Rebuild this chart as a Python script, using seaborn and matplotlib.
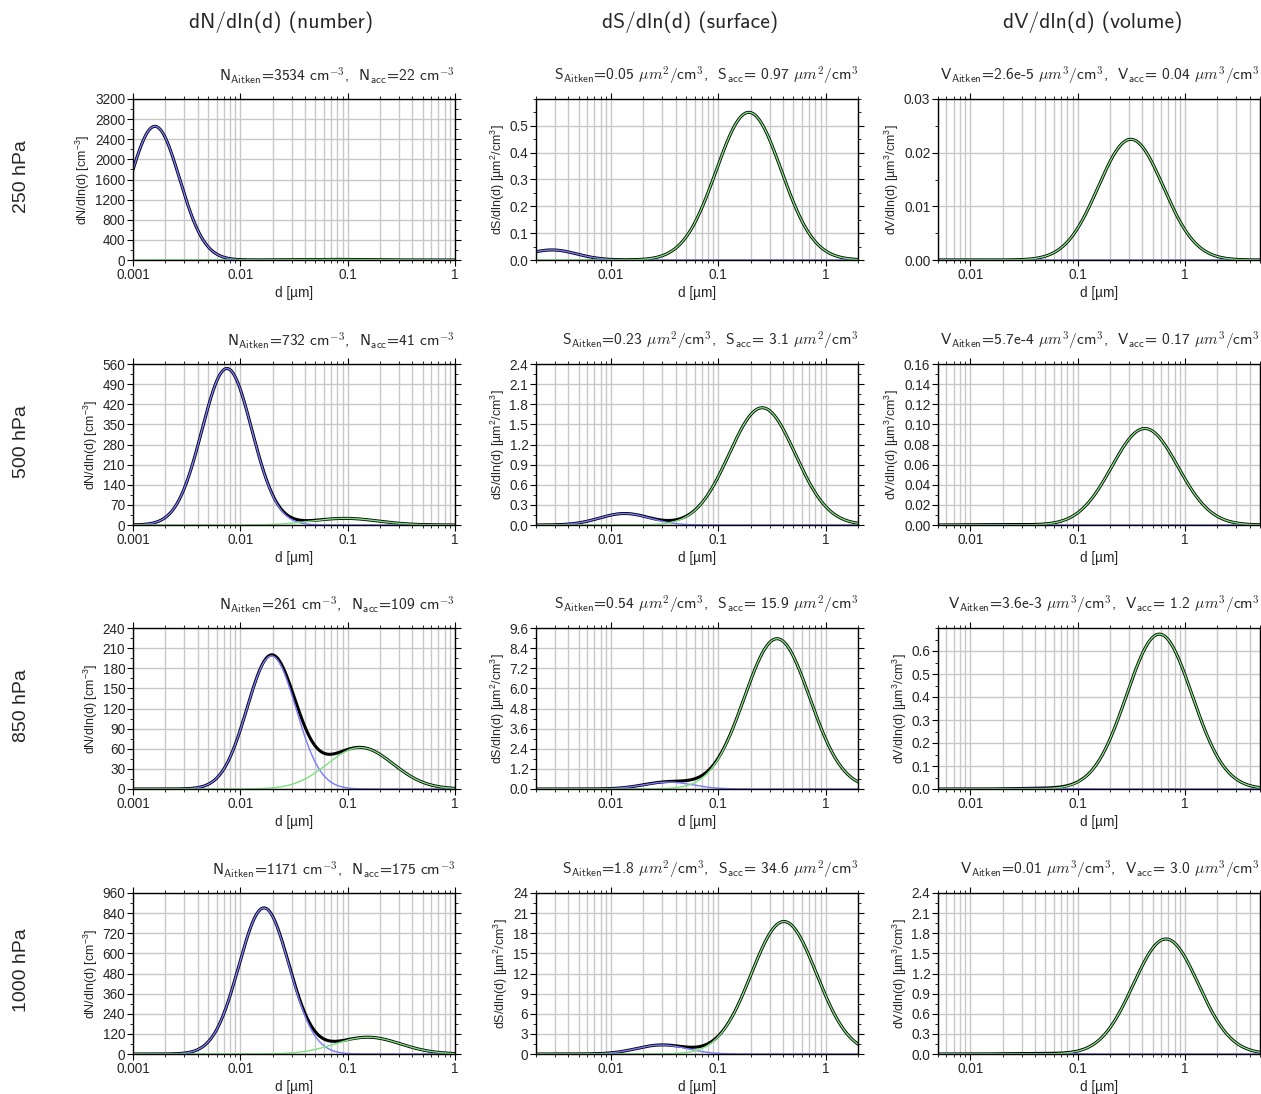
import numpy as np
import pandas as pd
import seaborn as sns
import matplotlib.pyplot as plt
from matplotlib.ticker import FixedLocator, LogLocator, NullFormatter, FuncFormatter, FormatStrFormatter, AutoMinorLocator

# pressure levels (rows)
levels = ["250 hPa", "500 hPa", "850 hPa", "1000 hPa"]

# lognormal mode parameters (N [cm-3], median d [um], geometric std)
n_aitken = [3534, 732, 261, 1171]
dg_aitken = [0.0016, 0.0075, 0.0195, 0.0166]
sig_aitken = [1.70, 1.71, 1.69, 1.71]
n_acc = [22, 41, 109, 175]
dg_acc = [0.0725, 0.094, 0.131, 0.154]
sig_acc = [2.01, 2.03, 2.02, 2.01]

# numbers printed in the panel titles
txt_n = [("3534", "22"), ("732", "41"), ("261", "109"), ("1171", "175")]
txt_s = [("0.05", "0.97"), ("0.23", "3.1"), ("0.54", "15.9"), ("1.8", "34.6")]
txt_v = [("2.6e-5", "0.04"), ("5.7e-4", "0.17"), ("3.6e-3", "1.2"), ("0.01", "3.0")]

col_titles = ["dN/dln(d) (number)", "dS/dln(d) (surface)", "dV/dln(d) (volume)"]
ylabels = ["dN/dln(d) [cm$\\mathregular{^{-3}}$]",
           "dS/dln(d) [\u00b5m$\\mathregular{^{2}}$/cm$\\mathregular{^{3}}$]",
           "dV/dln(d) [\u00b5m$\\mathregular{^{3}}$/cm$\\mathregular{^{3}}$]"]

# axis ranges
xlims = [(0.001, 1), (0.002, 2), (0.005, 5)]
ylims = [[3200, 0.6, 0.03], [560, 2.4, 0.16], [240, 9.6, 0.70], [960, 24, 2.4]]
ystep = [[400, 0.1, 0.01], [70, 0.3, 0.02], [30, 1.2, 0.1], [120, 3, 0.3]]
ytop = [[3200, 0.5, 0.03], [560, 2.4, 0.16], [240, 9.6, 0.6], [960, 24, 2.4]]
ydec = [[0, 1, 2], [0, 1, 2], [0, 1, 1], [0, 0, 1]]


def lognormal(d, n, dg, sg):
    ls = np.log(sg)
    return n / (np.sqrt(2 * np.pi) * ls) * np.exp(-(np.log(d) - np.log(dg)) ** 2 / (2 * ls ** 2))


sns.set_style("ticks")
plt.rcParams["font.family"] = ["Liberation Sans", "DejaVu Sans"]
plt.rcParams["mathtext.fontset"] = "cm"

W, H = 1261, 1094
fig = plt.figure(figsize=(W / 100, H / 100), dpi=100)

lefts = [133, 536, 938]
tops = [99, 364, 628, 893]
aw, ah = 322, 161

d = np.logspace(-3, np.log10(5), 600)

for i in range(4):
    ait = lognormal(d, n_aitken[i], dg_aitken[i], sig_aitken[i])
    acc = lognormal(d, n_acc[i], dg_acc[i], sig_acc[i])
    moments = [1.0, np.pi * d ** 2, np.pi / 6 * d ** 3]
    for j in range(3):
        ax = fig.add_axes([lefts[j] / W, 1 - (tops[i] + ah) / H, aw / W, ah / H])
        df = pd.DataFrame({"d": d, "total": (ait + acc) * moments[j],
                           "aitken": ait * moments[j], "acc": acc * moments[j]})
        df = df[(df.d >= xlims[j][0] * 0.99) & (df.d <= xlims[j][1] * 1.01)]
        sns.lineplot(data=df, x="d", y="total", ax=ax, color="black", lw=2.2, sort=False)
        sns.lineplot(data=df, x="d", y="aitken", ax=ax, color="#7a7aff", lw=1.0, sort=False)
        sns.lineplot(data=df, x="d", y="acc", ax=ax, color="#7ee07e", lw=1.0, sort=False)

        ax.set_xscale("log")
        ax.set_xlim(*xlims[j])
        ax.set_ylim(0, ylims[i][j])
        dec = [10.0 ** k for k in range(-3, 1)]
        ax.xaxis.set_major_locator(FixedLocator([v for v in dec if xlims[j][0] <= v <= xlims[j][1]]))
        ax.xaxis.set_major_formatter(FuncFormatter(lambda v, p: "%g" % v))
        ax.xaxis.set_minor_locator(LogLocator(base=10, subs=np.arange(2, 10)))
        ax.xaxis.set_minor_formatter(NullFormatter())
        ax.yaxis.set_major_locator(FixedLocator(np.arange(0, ytop[i][j] + ystep[i][j] / 2, ystep[i][j])))
        ax.yaxis.set_minor_locator(AutoMinorLocator(2))
        ax.yaxis.set_major_formatter(FormatStrFormatter("%%.%df" % ydec[i][j]))

        ax.set_axisbelow(True)
        ax.grid(True, which="major", color="#c8c8c8", lw=1.0)
        ax.grid(True, which="minor", axis="x", color="#c8c8c8", lw=1.0)
        ax.tick_params(which="both", direction="out", top=True, right=True, labelsize=9.8,
                       pad=1.5, color="black")
        ax.tick_params(which="major", length=4, width=0.8)
        ax.tick_params(which="minor", length=2, width=0.6)
        for s in ax.spines.values():
            s.set_visible(True)
            s.set_color("black")
            s.set_linewidth(1.0)

        ax.set_xlabel("d [\u00b5m]", fontsize=9.8, labelpad=3)
        ax.set_ylabel(ylabels[j], fontsize=9.0, labelpad=2)

        if j == 0:
            t = (r"N$_\mathsf{Aitken}$=%s cm$^{-3}$,  N$_\mathsf{acc}$=%s cm$^{-3}$" % txt_n[i])
        elif j == 1:
            t = (r"S$_\mathsf{Aitken}$=%s $\mu m^2$/cm$^\mathsf{3}$,  S$_\mathsf{acc}$= %s $\mu m^2$/cm$^\mathsf{3}$" % txt_s[i])
        else:
            t = (r"V$_\mathsf{Aitken}$=%s $\mu m^3$/cm$^\mathsf{3}$,  V$_\mathsf{acc}$= %s $\mu m^3$/cm$^\mathsf{3}$" % txt_v[i])
        ax.set_title(t, loc="right", fontsize=11.2, pad=13, fontfamily="cmss10")

    fig.text(22 / W, 1 - (tops[i] + ah / 2 - 3) / H, levels[i], rotation=90,
             ha="center", va="center", fontsize=14)

hx = [281, 690, 1093]
for j in range(3):
    fig.text(hx[j] / W, 1 - 22 / H, col_titles[j], fontfamily="cmss10",
             ha="center", va="center", fontsize=15.5)

fig.savefig("out.png", dpi=100)
